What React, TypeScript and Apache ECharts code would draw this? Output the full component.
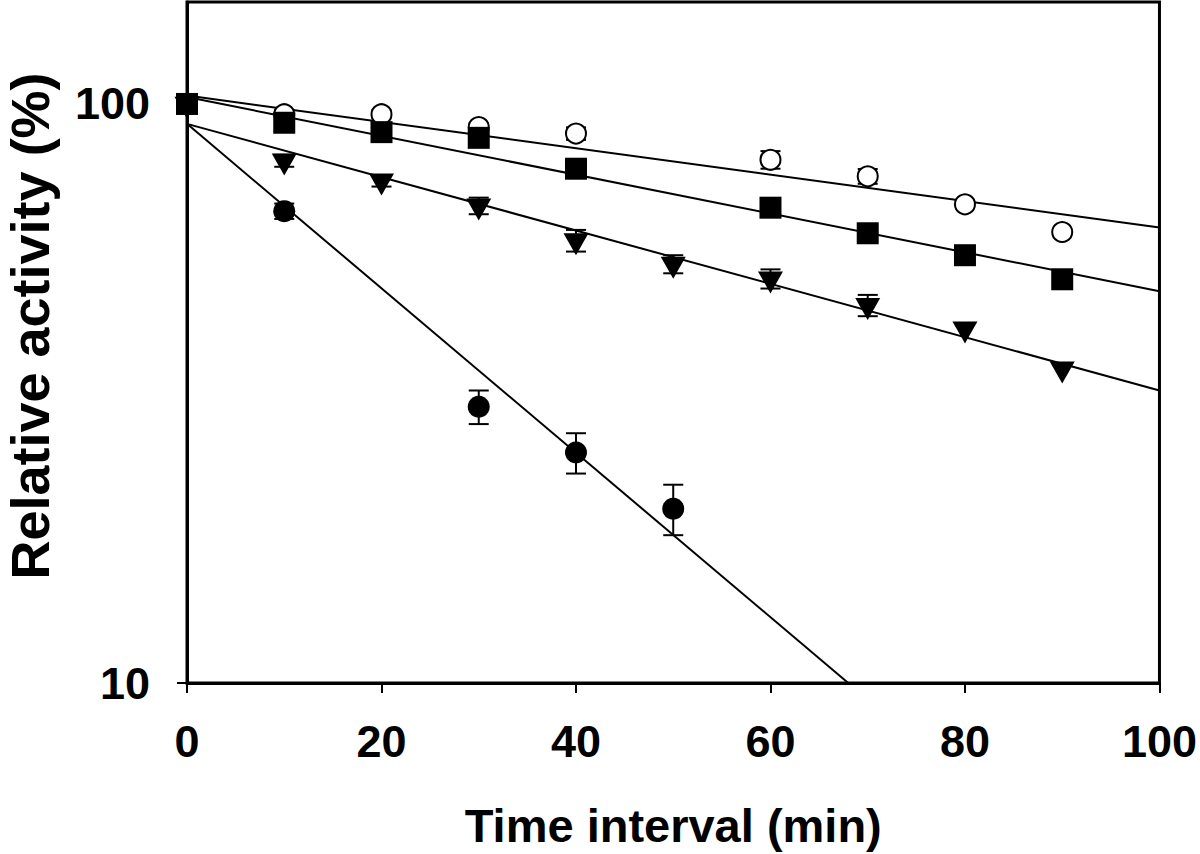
import React, { useEffect, useRef } from "react";
import * as echarts from "echarts";

// Time points (min)
const timeMain = [0, 10, 20, 30, 40, 60, 70, 80, 90];
const timeTriangle = [0, 10, 20, 30, 40, 50, 60, 70, 80, 90];
const timeFilled = [0, 10, 30, 40, 50];

// Relative activity (%)
const openCircle = [100, 96, 96, 91.2, 88.9, 80.1, 75.0, 67.1, 60.1];
const openCircleErr = [0, 1.5, 1.5, 1.5, 2.2, 2.8, 2.2, 0, 0];
const filledSquare = [100, 92.8, 89.4, 87.4, 77.3, 66.2, 59.8, 54.8, 49.8];
const triangleDown = [100, 79.8, 73.7, 66.7, 58.1, 52.9, 49.9, 44.9, 40.9, 34.9];
const triangleErr = [0, 1.9, 1.7, 2.2, 2.5, 1.9, 1.9, 1.9, 0, 0];
const filledCircle = [100, 65.3, 30.0, 25.0, 20.0];
const filledCircleErr = [0, 2.0, 2.0, 2.0, 2.0];

// Fitted lines: [x, y] endpoints
const fitOpen = [[0, 103.4], [100, 61.2]];
const fitSquare = [[0, 102.8], [100, 47.5]];
const fitTriangle = [[0, 92.4], [100, 32.0]];
const fitFilled = [[0, 92.4], [68, 10]];

const xTicks = [0, 20, 40, 60, 80, 100];
const yTicks = [10, 100];

const FONT = "'Liberation Sans', Arial, Helvetica, sans-serif";

function pairs(xs: number[], ys: number[]) {
  return xs.map((x, i) => [x, ys[i]]);
}
function errData(xs: number[], ys: number[], es: number[]) {
  return xs
    .map((x, i) => [x, ys[i] - es[i], ys[i] + es[i]])
    .filter((d, i) => es[i] > 0);
}

export default function App() {
  const ref = useRef<HTMLDivElement>(null);
  useEffect(() => {
    if (!ref.current) return;
    const chart = echarts.init(ref.current, undefined, { renderer: "svg" });
    const errRender = (params: any, api: any) => {
      const x = api.value(0);
      const lo = api.value(1);
      const hi = api.value(2);
      const p1 = api.coord([x, hi]);
      const p2 = api.coord([x, lo]);
      const hw = 10;
      const st = { stroke: "#000", lineWidth: 2 };
      return {
        type: "group",
        children: [
          { type: "line", shape: { x1: p1[0], y1: p1[1], x2: p2[0], y2: p2[1] }, style: st },
          { type: "line", shape: { x1: p1[0] - hw, y1: p1[1], x2: p1[0] + hw, y2: p1[1] }, style: st },
          { type: "line", shape: { x1: p2[0] - hw, y1: p2[1], x2: p2[0] + hw, y2: p2[1] }, style: st },
        ],
      };
    };
    const lineStyle = { color: "#000", width: 2 };
    const fitSeries = (data: number[][]) => ({
      type: "line",
      data,
      showSymbol: false,
      symbol: "none",
      lineStyle,
      clip: true,
      z: 2,
    });
    const errSeries = (data: number[][]) => ({
      type: "custom",
      renderItem: errRender,
      data,
      encode: { x: 0, y: [1, 2] },
      clip: true,
      z: 3,
    });
    chart.setOption({
      animation: false,
      backgroundColor: "#fff",
      grid: {
        left: 187,
        right: 38,
        top: 2,
        bottom: 170,
        show: true,
        borderColor: "#000",
        borderWidth: 3,
        backgroundColor: "transparent",
      },
      xAxis: {
        type: "value",
        min: 0,
        max: 100,
        interval: 20,
        splitLine: { show: false },
        axisLine: { show: true, lineStyle: { color: "#000", width: 3 } },
        axisTick: { show: true, length: 10, lineStyle: { color: "#000", width: 2 } },
        axisLabel: {
          color: "#000",
          fontFamily: FONT,
          fontWeight: "bold",
          fontSize: 45,
          margin: 36,
          formatter: (v: number) => (xTicks.includes(v) ? String(v) : ""),
        },
        name: "Time interval (min)",
        nameLocation: "middle",
        nameGap: 119,
        nameTextStyle: { color: "#000", fontFamily: FONT, fontWeight: "bold", fontSize: 47 },
      },
      yAxis: {
        type: "log",
        logBase: 10,
        min: 10,
        max: 150,
        splitLine: { show: false },
        minorTick: { show: false },
        axisLine: { show: true, lineStyle: { color: "#000", width: 3 } },
        axisTick: { show: true, length: 10, lineStyle: { color: "#000", width: 2 }, customValues: yTicks },
        axisLabel: {
          color: "#000",
          fontFamily: FONT,
          fontWeight: "bold",
          fontSize: 45,
          margin: 37,
          customValues: yTicks,
          formatter: (v: number) => (yTicks.includes(Math.round(v)) ? String(Math.round(v)) : ""),
        },
      },
      graphic: [
        {
          type: "text",
          x: 30,
          y: 326,
          rotation: Math.PI / 2,
          style: {
            text: "Relative activity (%)",
            fill: "#000",
            font: `bold 54px ${FONT}`,
            align: "center",
            verticalAlign: "middle",
          },
        },
      ],
      series: [
        fitSeries(fitOpen),
        fitSeries(fitSquare),
        fitSeries(fitTriangle),
        fitSeries(fitFilled),
        errSeries(errData(timeMain, openCircle, openCircleErr)),
        errSeries(errData(timeTriangle, triangleDown, triangleErr)),
        errSeries(errData(timeFilled, filledCircle, filledCircleErr)),
        {
          type: "scatter",
          data: pairs(timeMain, openCircle),
          symbol: "circle",
          symbolSize: 20,
          itemStyle: { color: "#fff", borderColor: "#000", borderWidth: 2, opacity: 1 },
          z: 4,
        },
        {
          type: "scatter",
          data: pairs(timeMain, filledSquare),
          symbol: "rect",
          symbolSize: 22,
          itemStyle: { color: "#000", opacity: 1 },
          z: 5,
        },
        {
          type: "scatter",
          data: pairs(timeTriangle, triangleDown),
          symbol: "triangle",
          symbolRotate: 180,
          symbolSize: [25, 22],
          symbolOffset: [0, 3.7],
          itemStyle: { color: "#000", opacity: 1 },
          z: 5,
        },
        {
          type: "scatter",
          data: pairs(timeFilled, filledCircle),
          symbol: "circle",
          symbolSize: 22,
          itemStyle: { color: "#000", opacity: 1 },
          z: 5,
        },
      ],
    });
    return () => chart.dispose();
  }, []);
  return (
    <div
      ref={ref}
      style={{ position: "fixed", left: 0, top: 0, width: 1200, height: 854, background: "#fff" }}
    />
  );
}
